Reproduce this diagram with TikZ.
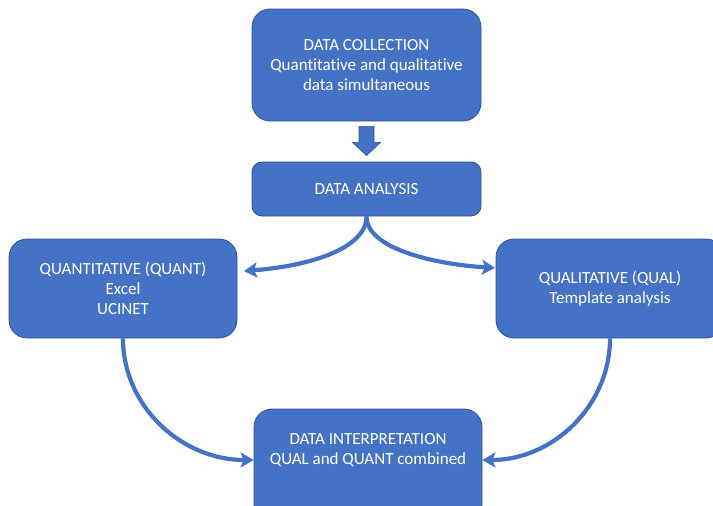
\documentclass[tikz,border=0pt]{standalone}
\usepackage{fontspec}
\setmainfont{Carlito}[Ligatures=NoCommon]
\usetikzlibrary{arrows.meta,calc}
\definecolor{boxblue}{HTML}{4472C4}
\definecolor{edgeblue}{HTML}{2F528F}
\begin{document}
\begin{tikzpicture}[x=1pt,y=-1pt,
  box/.style={draw=edgeblue,line width=0.8pt,fill=boxblue,rounded corners=18pt,
    text=white,align=center,inner sep=0pt,
    font=\fontsize{17}{20}\selectfont},
  txt/.style={text=white,align=center,inner sep=0pt,font=\fontsize{17}{20}\selectfont},
  conn/.style={draw=boxblue,line width=4.2pt,-{Stealth[length=13pt,width=15pt,inset=3pt]}}]
\clip (0,0) rectangle (713,506);
\useasboundingbox (0,0) rectangle (713,506);
\node[box,minimum width=229pt,minimum height=112pt] (coll) at (366.5,65)
  {DATA COLLECTION\\Quantitative and qualitative\\data simultaneous};
\node[box,rounded corners=10pt,minimum width=229pt,minimum height=54pt] (anal) at (366.5,189)
  {DATA ANALYSIS};
\node[box,minimum width=228pt,minimum height=99pt] (quant) at (123,288.5)
  {QUANTITATIVE (QUANT)\\Excel\\UCINET};
\node[box,minimum width=228pt,minimum height=99pt] (qual) at (610,288.5)
  {QUALITATIVE (QUAL)\\Template analysis};
\node[box,minimum width=228pt,minimum height=114pt] (interp) at (368,466) {};
\node[txt] (interptxt) at (368,450) {DATA INTERPRETATION\\QUAL and QUANT combined};
% block arrow
\draw[draw=edgeblue,line width=0.6pt,fill=boxblue]
  ($(coll.south)+(-7.5,5)$) -- ($(coll.south)+(7.5,5)$) -- ($(coll.south)+(7.5,21)$)
  -- ($(coll.south)+(14,21)$) -- ($(anal.north)+(0,-6)$) -- ($(coll.south)+(-14,21)$)
  -- ($(coll.south)+(-7.5,21)$) -- cycle;
% fork
\coordinate (ltip) at (244,271);
\coordinate (rtip) at (495,268);
\draw[conn] (anal.south) .. controls ($(anal.south)+(0,32)$) and ($(ltip)+(66,-5)$) .. (ltip);
\draw[conn] (anal.south) .. controls ($(anal.south)+(0,32)$) and ($(rtip)+(-62,-4)$) .. (rtip);
% bottom curves
\coordinate (lvl) at (0,460);
\coordinate (bl) at (interp.west |- lvl);
\coordinate (br) at (interp.east |- lvl);
\draw[conn] (quant.south) .. controls ($(quant.south)+(0,68)$) and ($(bl)+(-72,0)$) .. (bl);
\draw[conn] (qual.south) .. controls ($(qual.south)+(0,68)$) and ($(br)+(70,0)$) .. (br);
\end{tikzpicture}
\end{document}
